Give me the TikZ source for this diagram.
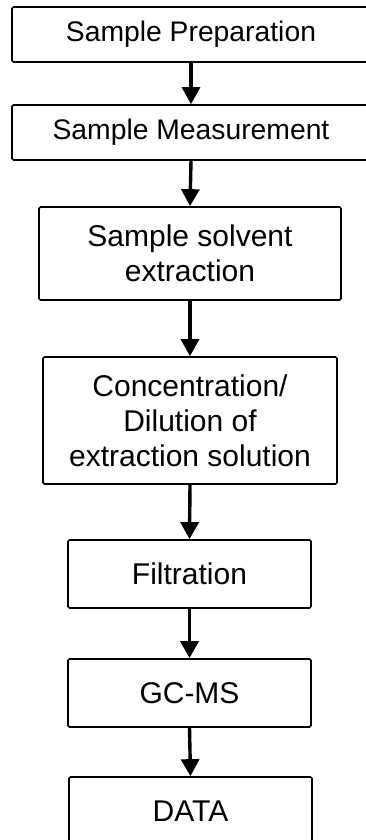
\documentclass[tikz,border=0pt]{standalone}
\usepackage{fontspec}
\setmainfont{Liberation Sans}
\usetikzlibrary{arrows.meta}
\begin{document}
\begin{tikzpicture}[x=1pt,y=-1pt,
  stepbox/.style={draw=black,line width=1.7pt,rounded corners=1.5pt,inner sep=0pt,align=center,
    font=\fontsize{30}{35}\selectfont},
  topbox/.style={stepbox,font=\fontsize{28.3}{35}\selectfont},
  flow/.style={line width=3.4pt,-{Triangle[width=18pt,length=17pt]}}]
\useasboundingbox[fill=white] (0,0) rectangle (365,840);
\node[topbox,minimum width=358pt,minimum height=55pt] (a) at (191,34.5) {Sample Preparation};
\node[topbox,minimum width=358pt,minimum height=55pt] (b) at (191,132.5) {Sample Measurement};
\node[stepbox,minimum width=302pt,minimum height=93pt] (c) at (190,253.5) {Sample solvent\\extraction};
\node[stepbox,minimum width=294pt,minimum height=127pt] (d) at (190,420.5) {Concentration/\\Dilution of\\extraction solution};
\node[stepbox,minimum width=243pt,minimum height=68pt] (e) at (189.5,574) {Filtration};
\node[stepbox,minimum width=243pt,minimum height=68pt] (f) at (189.5,693) {GC-MS};
\node[stepbox,minimum width=243pt,minimum height=68pt,text depth=0pt] (g) at (190.5,811) {DATA};
\draw[flow] (a.south) -- (b.north);
\draw[flow] (b.south) -- (c.north);
\draw[flow] (c.south) -- (d.north);
\draw[flow] (d.south) -- (e.north);
\draw[flow] (e.south) -- (f.north);
\draw[flow] (f.south) -- (g.north);
\end{tikzpicture}
\end{document}
